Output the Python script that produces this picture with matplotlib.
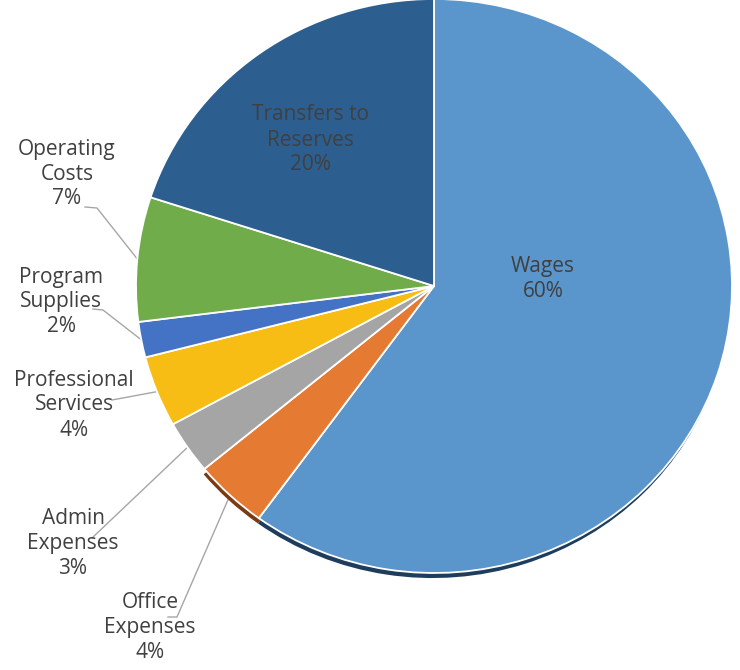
import numpy as np
import matplotlib
matplotlib.use("Agg")
import matplotlib.pyplot as plt

# data: slices go clockwise from 12 o'clock
categories = ["Wages", "Office\nExpenses", "Admin\nExpenses", "Professional\nServices",
              "Program\nSupplies", "Operating\nCosts", "Transfers to\nReserves"]
values = [60, 4, 3, 4, 2, 7, 20]
colors = ["#5A95CC", "#E57B33", "#A5A5A5", "#F8BD14", "#4472C4", "#71AC4B", "#2C5E90"]
shadow_colors = ["#1E3D5C", "#7A3A12", "none", "none", "none", "none", "none"]

# label block centres in image pixels (x, y from top) and leader line start points
label_pos = [(543, 279), (150, 628), (73, 544), (74, 405), (61, 302), (67, 174), (310, 140)]
leader_start = [None, [(168, 617), (177, 617)], [(92, 538)], [(112, 400)],
                [(93, 309), (103, 310)], [(85, 207), (97, 208)], None]

W, H = 740, 670
cx, cy, r = 434, 286, 298
ry = 287            # pie is slightly squashed vertically
k = r / ry          # data units per pixel in y


def py(y):
    return (H - y) * k


plt.rcParams['font.family'] = ['Open Sans', 'DejaVu Sans']
fig = plt.figure(figsize=(W / 100, H / 100), dpi=100)
ax = fig.add_axes([0, 0, 1, 1])

# shadow under the bottom edge
ax.pie(values, colors=shadow_colors, startangle=90, counterclock=False,
       center=(cx - 1.5, py(cy + 6)), radius=r - 1, wedgeprops=dict(linewidth=0))
wedges, _ = ax.pie(values, colors=colors, startangle=90, counterclock=False,
                   center=(cx, py(cy)), radius=r,
                   wedgeprops=dict(edgecolor="white", linewidth=1.3))

total = sum(values)
for i, (name, v) in enumerate(zip(categories, values)):
    pct = f"{round(100 * v / total)}%"
    lx, ly = label_pos[i]
    ax.text(lx, py(ly), f"{name}\n{pct}", ha="center", va="center",
            multialignment="center", fontsize=15, color="#404040", linespacing=1.25)
    if leader_start[i] is not None:
        w = wedges[i]
        mid = np.deg2rad((w.theta1 + w.theta2) / 2)
        ex, ey = cx + r * np.cos(mid), py(cy) + r * np.sin(mid)
        xs = [p[0] for p in leader_start[i]] + [ex]
        ys = [py(p[1]) for p in leader_start[i]] + [ey]
        ax.plot(xs, ys, color="#A6A6A6", lw=1, zorder=0.5)

ax.set_xlim(0, W)
ax.set_ylim(0, H * k)
ax.set_aspect("auto")
ax.axis("off")
fig.savefig("out.png", dpi=100, facecolor="white")
